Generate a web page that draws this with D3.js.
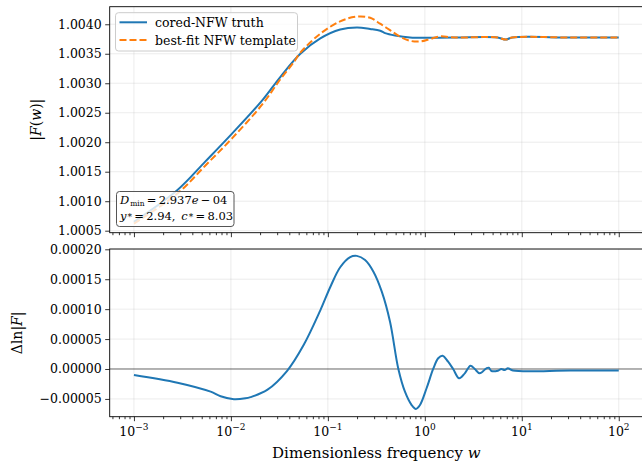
<!DOCTYPE html>
<html lang="en">
<head>
<meta charset="utf-8">
<title>cored-NFW vs NFW template</title>
<script src="https://d3js.org/d3.v7.min.js"></script>
<style>
  body { margin: 0; background: #fff; }
  text { font-family: "DejaVu Serif", serif; fill: #000; }
  .grid line { stroke: #b0b0b0; stroke-opacity: 0.3; stroke-width: 0.8px; }
  .axis path { display: none; }
  .axis line { stroke: #000; stroke-width: 0.8px; }
  .axis text { font-size: 12.5px; font-family: "DejaVu Serif", serif; }
  .frame { fill: none; stroke: #000; stroke-width: 0.9px; }
</style>
</head>
<body>
<script>
// values, x given as log10(w)
var truthLogW = [-3.0, -2.551, -2.26, -1.986, -1.677, -1.489, -1.284, -1.078, -0.873, -0.70, -0.564,
                 -0.46, -0.41, -0.307, -0.153, 0.3, 0.75, 0.834, 0.9, 1.5, 2.0];
var truthF = [1.00065, 1.00119, 1.00168, 1.00215, 1.00271, 1.00311, 1.00350, 1.00376, 1.00391, 1.003946, 1.00392,
              1.00389, 1.00385, 1.00381, 1.003776, 1.003776, 1.003776, 1.00374, 1.003776, 1.003776, 1.003776];

var templLogW = [-3.0, -2.551, -2.26, -1.986, -1.677, -1.489, -1.35, -1.284, -1.078, -0.873, -0.70, -0.564,
                 -0.462, -0.359, -0.256, -0.153, -0.05, 0.052, 0.155, 0.258, 0.35, 0.75, 0.834, 0.9, 1.5, 2.0];
var templF = [1.00062, 1.00113, 1.00161, 1.00207, 1.00264, 1.00307, 1.00336, 1.00352, 1.00384, 1.00405, 1.00413, 1.00411,
              1.00401, 1.00390, 1.00379, 1.00372, 1.003708, 1.00375, 1.003795, 1.003783, 1.003776, 1.003776, 1.00374, 1.003776, 1.003776, 1.003776];

var diffLogW = [-3.0, -2.551, -2.209, -2.106, -1.969, -1.85, -1.798, -1.626, -1.42, -1.25, -1.078, -0.975, -0.873, -0.77, -0.701,
                -0.616, -0.53, -0.444, -0.359, -0.273, -0.205, -0.136, -0.092, -0.05, 0.018, 0.086, 0.138, 0.183,
                0.24, 0.292, 0.354, 0.412, 0.471, 0.515, 0.566, 0.635, 0.659, 0.687, 0.754, 0.789, 0.823, 0.857,
                0.909, 1.5, 2.0];
var diffVals = [-0.0000100, -0.0000229, -0.0000379, -0.0000455, -0.0000505, -0.0000490, -0.0000470, -0.0000350,
                -0.0000030, 0.0000400,
                0.0000980, 0.0001370, 0.0001700, 0.0001870, 0.0001890, 0.0001821, 0.0001626, 0.0001292, 0.0000790,
                0.0, -0.0000379, -0.0000602, -0.0000668, -0.0000602, -0.0000322, 0.0, 0.0000179, 0.0000222,
                0.0000122, 0.0, -0.0000155, -0.0000072, 0.0000055, 0.0, -0.0000072, 0.0000012, 0.0000022,
                -0.0000033, -0.0000028, 0.0, -0.0000017, 0.0000012, -0.0000025, -0.0000025, -0.0000025];

var xTickExp = [-3, -2, -1, 0, 1, 2];
var topYTicks = [1.0005, 1.0010, 1.0015, 1.0020, 1.0025, 1.0030, 1.0035, 1.0040];
var botYTicks = [-0.00005, 0.0, 0.00005, 0.00010, 0.00015, 0.00020];

var width = 642, height = 465;
var left = 109.7, right = 643;
var topPanel = {y0: 6.7, y1: 232.7};
var botPanel = {y0: 249, y1: 416.7};

var svg = d3.select("body").append("svg")
    .attr("width", width)
    .attr("height", height);

var x = d3.scaleLog()
    .domain([Math.pow(10, -3.25), Math.pow(10, 2.25)])
    .range([left, right]);

var yTop = d3.scaleLinear()
    .domain([1.000466, 1.004298])
    .range([topPanel.y1, topPanel.y0]);

var yBot = d3.scaleLinear()
    .domain([-0.0000797, 0.0002005])
    .range([botPanel.y1, botPanel.y0]);

var majorX = xTickExp.map(function(e) { return Math.pow(10, e); });
var minorX = [];
for (var e = -4; e <= 2; e++) {
    for (var k = 2; k <= 9; k++) {
        var v = k * Math.pow(10, e);
        if (v > x.domain()[0] && v < x.domain()[1]) minorX.push(v);
    }
}

var minus = function(s) { return s.replace("-", "\u2212"); };

function drawPanel(p, y, yTicks, fmt, id) {
    svg.append("clipPath").attr("id", id)
      .append("rect")
        .attr("x", left).attr("y", p.y0)
        .attr("width", right - left).attr("height", p.y1 - p.y0);

    var g = svg.append("g").attr("class", "grid");
    g.selectAll(".gx").data(majorX).enter().append("line")
        .attr("x1", x).attr("x2", x)
        .attr("y1", p.y0).attr("y2", p.y1);
    g.selectAll(".gy").data(yTicks).enter().append("line")
        .attr("x1", left).attr("x2", right)
        .attr("y1", y).attr("y2", y);

    svg.append("g")
        .attr("class", "axis")
        .attr("transform", "translate(0," + p.y1 + ")")
        .call(d3.axisBottom(x).tickValues(majorX).tickSize(4.5).tickFormat(""));
    svg.append("g")
        .attr("class", "axis")
        .attr("transform", "translate(0," + p.y1 + ")")
        .call(d3.axisBottom(x).tickValues(minorX).tickSize(2.5).tickFormat(""));
    svg.append("g")
        .attr("class", "axis")
        .attr("transform", "translate(" + left + ",0)")
        .call(d3.axisLeft(y).tickValues(yTicks).tickSize(4.5).tickPadding(3.5)
            .tickFormat(function(d) { return minus(fmt(d)); }));
}

drawPanel(topPanel, yTop, topYTicks, d3.format(".4f"), "clipTop");
drawPanel(botPanel, yBot, botYTicks, d3.format(".5f"), "clipBot");

// curves
var lineTop = d3.line()
    .x(function(d) { return x(Math.pow(10, d[0])); })
    .y(function(d) { return yTop(d[1]); })
    .curve(d3.curveCatmullRom.alpha(0.5));

var lineBot = d3.line()
    .x(function(d) { return x(Math.pow(10, d[0])); })
    .y(function(d) { return yBot(d[1]); })
    .curve(d3.curveCatmullRom.alpha(0.5));

svg.append("path")
    .datum(d3.zip(truthLogW, truthF))
    .attr("clip-path", "url(#clipTop)")
    .attr("d", lineTop)
    .attr("fill", "none")
    .attr("stroke", "#1f77b4")
    .attr("stroke-width", 2);

svg.append("path")
    .datum(d3.zip(templLogW, templF))
    .attr("clip-path", "url(#clipTop)")
    .attr("d", lineTop)
    .attr("fill", "none")
    .attr("stroke", "#ff7f0e")
    .attr("stroke-width", 2)
    .attr("stroke-dasharray", "7,3");

svg.append("line")
    .attr("x1", left).attr("x2", right)
    .attr("y1", yBot(0)).attr("y2", yBot(0))
    .attr("stroke", "#000")
    .attr("stroke-opacity", 0.55)
    .attr("stroke-width", 1);

svg.append("path")
    .datum(d3.zip(diffLogW, diffVals))
    .attr("clip-path", "url(#clipBot)")
    .attr("d", lineBot)
    .attr("fill", "none")
    .attr("stroke", "#1f77b4")
    .attr("stroke-width", 2);

// frames
[topPanel, botPanel].forEach(function(p) {
    svg.append("rect").attr("class", "frame")
        .attr("x", left).attr("y", p.y0)
        .attr("width", right - left).attr("height", p.y1 - p.y0);
});

// x tick labels (bottom panel only)
var xl = svg.append("g").selectAll("text")
    .data(xTickExp).enter().append("text")
    .attr("x", function(d) { return x(Math.pow(10, d)); })
    .attr("y", 436)
    .attr("text-anchor", "middle")
    .style("font-size", "12.5px");
xl.append("tspan").text("10");
xl.append("tspan")
    .attr("dy", -6)
    .style("font-size", "9px")
    .text(function(d) { return minus(String(d)); });

// legend
var leg = svg.append("g");
leg.append("rect")
    .attr("x", 115.5).attr("y", 12.7)
    .attr("width", 182).attr("height", 38.3)
    .attr("rx", 3)
    .attr("fill", "#fff").attr("fill-opacity", 0.8)
    .attr("stroke", "#cccccc").attr("stroke-width", 1);
var legItems = [
    {label: "cored-NFW truth", color: "#1f77b4", dash: null},
    {label: "best-fit NFW template", color: "#ff7f0e", dash: "7,3"}
];
legItems.forEach(function(d, i) {
    var yy = 22.3 + i * 17.7;
    leg.append("line")
        .attr("x1", 119.5).attr("x2", 147)
        .attr("y1", yy).attr("y2", yy)
        .attr("stroke", d.color).attr("stroke-width", 2)
        .attr("stroke-dasharray", d.dash);
    leg.append("text")
        .attr("x", 155).attr("y", yy + 4.5)
        .style("font-size", "12.5px")
        .text(d.label);
});

// fit annotation
var ann = svg.append("g");
ann.append("rect")
    .attr("x", 116.5).attr("y", 191.5)
    .attr("width", 117.5).attr("height", 35)
    .attr("rx", 3)
    .attr("fill", "#fff").attr("fill-opacity", 0.8)
    .attr("stroke", "#555").attr("stroke-width", 1);
var a1 = ann.append("text").attr("x", 120).attr("y", 204).style("font-size", "11.5px");
a1.append("tspan").style("font-style", "italic").text("D");
a1.append("tspan").attr("dx", 1).attr("dy", 2).style("font-size", "7.5px").text("min");
a1.append("tspan").attr("dy", -2).text("\u2009=\u20092.937");
a1.append("tspan").style("font-style", "italic").text("e");
a1.append("tspan").text("\u2009\u2212\u200904");
var a2 = ann.append("text").attr("x", 120).attr("y", 219.5).style("font-size", "11.5px");
a2.append("tspan").style("font-style", "italic").text("y");
a2.append("tspan").attr("dx", 1).style("font-size", "9px").text("*");
a2.append("tspan").text("\u2009=\u20092.94,\u2002");
a2.append("tspan").style("font-style", "italic").text("c");
a2.append("tspan").attr("dx", 1).style("font-size", "9px").text("*");
a2.append("tspan").text("\u2009=\u20098.03");

// axis labels
var yl1 = svg.append("text")
    .attr("transform", "translate(41," + ((topPanel.y0 + topPanel.y1) / 2) + ") rotate(-90)")
    .attr("text-anchor", "middle")
    .style("font-size", "14px");
yl1.append("tspan").text("|");
yl1.append("tspan").style("font-style", "italic").text("F");
yl1.append("tspan").text("(");
yl1.append("tspan").style("font-style", "italic").text("w");
yl1.append("tspan").text(")|");

var yl2 = svg.append("text")
    .attr("transform", "translate(22," + ((botPanel.y0 + botPanel.y1) / 2) + ") rotate(-90)")
    .attr("text-anchor", "middle")
    .style("font-size", "14px");
yl2.append("tspan").text("\u0394ln|");
yl2.append("tspan").style("font-style", "italic").text("F");
yl2.append("tspan").text("|");

var xlab = svg.append("text")
    .attr("x", (left + right) / 2)
    .attr("y", 458)
    .attr("text-anchor", "middle")
    .style("font-size", "15px");
xlab.append("tspan").text("Dimensionless frequency ");
xlab.append("tspan").style("font-style", "italic").text("w");
</script>
</body>
</html>
